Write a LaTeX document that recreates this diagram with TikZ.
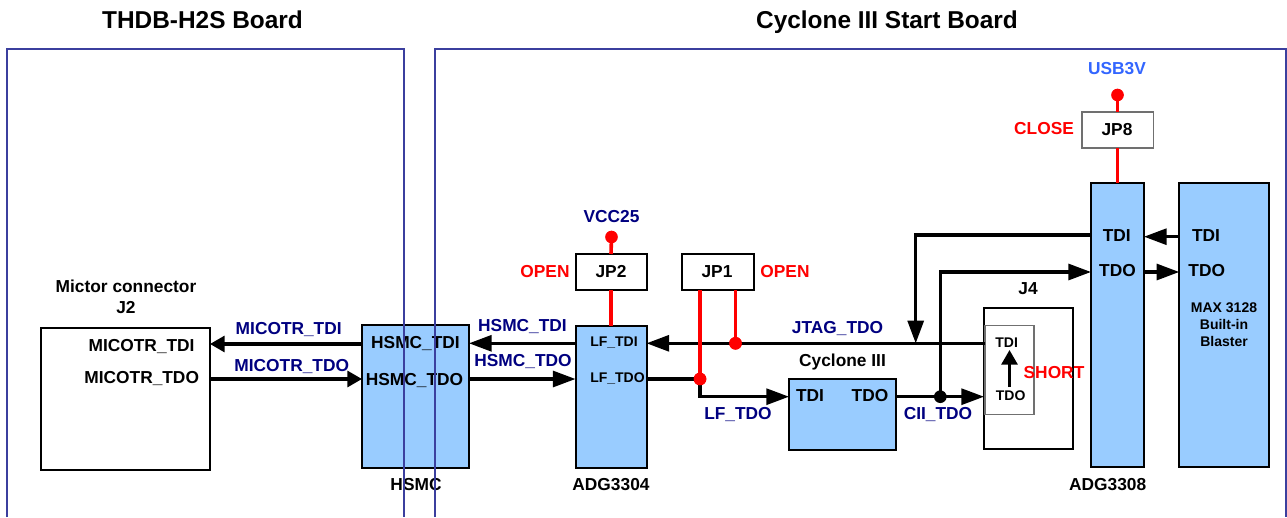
\documentclass[tikz,border=0pt]{standalone}
\usepackage{fontspec}
\setmainfont{Liberation Sans}
\usetikzlibrary{arrows.meta}
\definecolor{chipblue}{HTML}{99CCFF}
\definecolor{sigblue}{HTML}{000080}
\definecolor{boardline}{HTML}{3B3F9E}
\definecolor{usbblue}{HTML}{3366FF}
\definecolor{jpgray}{HTML}{707070}
\tikzset{
  pxsize/.style 2 args={minimum width=#1*0.75pt,minimum height=#2*0.75pt},
  boxbase/.style={draw=black,line width=1.5pt,inner sep=0pt,outer sep=0pt,rectangle},
  chip/.style={boxbase,fill=chipblue},
  plainbox/.style={boxbase,fill=white},
  graybox/.style={boxbase,draw=jpgray,line width=1.1pt,fill=white},
  txt/.style={font=\bfseries\fontsize{13pt}{15pt}\selectfont,inner sep=0pt,text height=9.3pt,text depth=0pt,text=black},
  small/.style={txt,font=\bfseries\fontsize{10.5pt}{12pt}\selectfont,text height=7.5pt},
  title/.style={txt,font=\bfseries\fontsize{18.3pt}{22pt}\selectfont,text height=13.2pt},
  navy/.style={txt,text=sigblue},
  redtxt/.style={txt,text=red},
  sig/.style={line width=2.3pt,draw=black,-{Triangle[length=17pt,width=12pt]}},
  sigshort/.style={line width=2.3pt,draw=black,-{Triangle[length=11pt,width=12pt]}},
  wire/.style={line width=2.3pt,draw=black},
  redw/.style={line width=2.7pt,draw=red},
  dotr/.style={circle,fill=red,inner sep=0pt,minimum size=9.5pt,outer sep=0pt},
  dotk/.style={circle,fill=black,inner sep=0pt,minimum size=9.5pt,outer sep=0pt},
  board/.style={line width=1.3pt,draw=boardline}
}
\begin{document}
\begin{tikzpicture}[x=0.75pt,y=-0.75pt]
\useasboundingbox (0,0) rectangle (1287,517);
\fill[white] (0,0) rectangle (1287,517);
% boxes
\node[plainbox,pxsize={169}{142}] (mictor) at (125.5,399) {};
\node[chip,pxsize={107}{142.5}] (hsmc) at (415.5,396.5) {};
\node[chip,pxsize={71}{142}] (adga) at (611,397) {};
\node[plainbox,pxsize={71}{36}] (jptwo) at (611,272) {};
\node[plainbox,pxsize={71.5}{36}] (jpone) at (718,272) {};
\node[chip,pxsize={107}{71}] (cyc) at (842.5,414.5) {};
\node[plainbox,pxsize={89}{141.5}] (jfour) at (1028.5,378.5) {};
\node[graybox,pxsize={49}{88.5}] (jinner) at (1009.5,370) {};
\node[chip,pxsize={53}{284}] (adgb) at (1117.5,325) {};
\node[chip,pxsize={89.5}{284}] (maxc) at (1224,325) {};
\node[graybox,pxsize={71.5}{36}] (jpeight) at (1117.5,130) {};
% port levels
\coordinate (yA) at (0,344);
\coordinate (yB) at (0,379);
\coordinate (yC) at (0,343.3);
\coordinate (yD) at (0,396.7);
\coordinate (yE) at (0,235);
\coordinate (yF) at (0,272);
\coordinate (yG) at (0,236.7);
\node[dotr] (dvcc) at (611.5,237) {};
\node[dotr] (dusb) at (1117.5,95) {};
\coordinate (xJ) at (735.5,0);
\coordinate (xL) at (700,0);
\node[dotr] (djtag) at (xJ |- yC) {};
\node[dotr] (dlf) at (xL |- yB) {};
\coordinate (xT) at (915.7,0);
\coordinate (xO) at (940.3,0);
\node[dotk] (dcii) at (xO |- yD) {};
\coordinate (cT) at (xT |- yE);
\coordinate (cO) at (xO |- yF);
\coordinate (ltwo) at (xL |- yD);
% connectors
\draw[sigshort] (hsmc.west |- yA) -- (mictor.east |- yA);
\draw[sigshort] (mictor.east |- yB) -- (hsmc.west |- yB);
\draw[sig] (adga.west |- yC) -- (hsmc.east |- yC);
\draw[sig] (hsmc.east |- yB) -- (adga.west |- yB);
\draw[sig] (jinner.west |- yC) -- (adga.east |- yC);
\draw[wire] (adga.east |- yB) -- (dlf.center);
\draw[sig] (dlf.center) -- (ltwo) -- (cyc.west |- yD);
\draw[sig] (cyc.east |- yD) -- (jfour.west |- yD);
\draw[sig] (adgb.west |- yE) -- (cT) -- (xT |- yC);
\draw[sig] (dcii.center) -- (cO) -- (adgb.west |- yF);
\draw[sig] (maxc.west |- yG) -- (adgb.east |- yG);
\draw[sig] (adgb.east |- yF) -- (maxc.west |- yF);
\coordinate (innB) at (1009.5,387);
\coordinate (innT) at (1009.5,350);
\draw[sigshort,line width=2.2pt] (innB) -- (innT);
% red links
\draw[redw] (dvcc.center) -- (jptwo.north);
\draw[redw] (jptwo.south) -- (adga.north);
\draw[redw] (dusb.center) -- (jpeight.north);
\draw[redw] (jpeight.south) -- (adgb.north);
\draw[redw] (jpone.south -| xJ) -- (djtag.center);
\draw[redw] (jpone.south -| xL) -- (dlf.center);
\node[dotr] at (djtag) {};
\node[dotr] at (dlf) {};
% texts
\node[title] (tl) at (202.5,19.5) {THDB-H2S Board};
\node[title] (tr) at (887,20) {Cyclone III Start Board};
\node[txt] (t1) at (126,286) {Mictor connector};
\node[txt] (t2) at (126,307) {J2};
\node[txt] (t3) at (141.6,345) {MICOTR\_TDI};
\node[txt] (t4) at (141.7,377) {MICOTR\_TDO};
\node[navy] (t5) at (288.7,328) {MICOTR\_TDI};
\node[navy] (t6) at (291.7,365) {MICOTR\_TDO};
\node[txt] (t7) at (415.5,342) {HSMC\_TDI};
\node[txt] (t8) at (414.5,379) {HSMC\_TDO};
\node[txt] (t9) at (416,484) {HSMC};
\node[navy] (t10) at (522.5,325) {HSMC\_TDI};
\node[navy] (t11) at (523,360) {HSMC\_TDO};
\node[small] (t12) at (614,341.5) {LF\_TDI};
\node[small] (t13) at (617.5,377) {LF\_TDO};
\node[txt] (t14) at (611,484) {ADG3304};
\node[navy] (t15) at (611.5,216.5) {VCC25};
\node[redtxt] (t16) at (545,271.7) {OPEN};
\node[txt] (t17) at (611,271.5) {JP2};
\node[txt] (t18) at (717,271.5) {JP1};
\node[redtxt] (t19) at (785,271.5) {OPEN};
\node[navy] (t20) at (837.5,327.5) {JTAG\_TDO};
\node[txt] (t21) at (842.5,360) {Cyclone III};
\node[txt] (t22) at (810,395.5) {TDI};
\node[txt] (t23) at (870,395.5) {TDO};
\node[navy] (t24) at (738,413.5) {LF\_TDO};
\node[navy] (t25) at (938,413) {CII\_TDO};
\node[txt] (t26) at (1028,288.5) {J4};
\node[small] (t27) at (1006.7,342) {TDI};
\node[small] (t28) at (1010.7,395.5) {TDO};
\node[redtxt] (t29) at (1054,372.5) {SHORT};
\node[redtxt] (t30) at (1044,128.5) {CLOSE};
\node[txt] (t31) at (1117,129) {JP8};
\node[txt,text=usbblue] (t32) at (1117,68.5) {USB3V};
\node[txt] (t33) at (1116.7,235.5) {TDI};
\node[txt] (t34) at (1117.5,270.5) {TDO};
\node[txt] (t35) at (1206,235.5) {TDI};
\node[txt] (t36) at (1206.7,270.5) {TDO};
\node[small] (t37) at (1224,307) {MAX 3128};
\node[small] (t38) at (1224,324.5) {Built-in};
\node[small] (t39) at (1224,341.5) {Blaster};
\node[txt] (t40) at (1107.7,484) {ADG3308};
% boards
\draw[board] (7,517) -- (7,49) -- (404,49) -- (404,517);
\draw[board] (435,517) -- (435,49) -- (1285.7,49) -- (1285.7,517);
\end{tikzpicture}
\end{document}
